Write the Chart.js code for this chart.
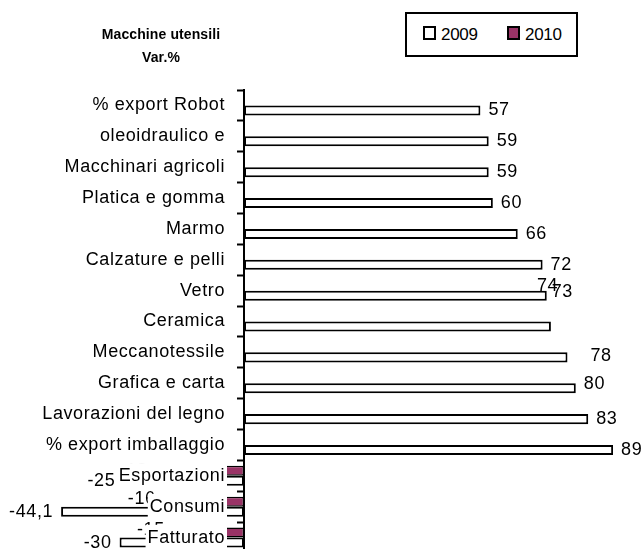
<!DOCTYPE html>
<html>
<head>
<meta charset="utf-8">
<script src="https://cdn.jsdelivr.net/npm/chart.js@4.4.1/dist/chart.umd.min.js"></script>
<style>
    html, body { margin: 0; padding: 0; overflow: hidden; background: #fff; }
    #wrap { position: relative; width: 644px; height: 549px; }
    #grafico { position: absolute; left: 0; top: 0; }
    .titolo {
        position: absolute; left: 0; top: 23px; width: 322px; text-align: center;
        font: bold 14px "Liberation Sans", Arial, sans-serif;
        letter-spacing: 0.1px; line-height: 23px; color: #000;
    }
    .legenda {
        position: absolute; left: 405px; top: 12px; width: 173px; height: 45px;
        box-sizing: border-box; border: 2px solid #000; background: #fff;
        font: 17px "Liberation Sans", Arial, sans-serif;
        letter-spacing: -0.3px; line-height: 19px; color: #000;
    }
    .quadro { position: absolute; top: 12px; width: 13px; height: 14px; box-sizing: border-box; border: 2px solid #000; }
    .testo { position: absolute; top: 11px; }
</style>
</head>
<body>
<div id="wrap">
    <canvas id="grafico" width="644" height="560"></canvas>
    <div class="titolo">Macchine utensili<br>Var.%</div>
    <div class="legenda">
        <span class="quadro" style="left:16px; background:#fff"></span><span class="testo" style="left:34px">2009</span>
        <span class="quadro" style="left:100px; background:#993366"></span><span class="testo" style="left:118px">2010</span>
    </div>
</div>
<script>
// Settori e variazioni percentuali
const categorie = [
    '% export Robot', 'oleoidraulico e', 'Macchinari agricoli', 'Platica e gomma',
    'Marmo', 'Calzature e pelli', 'Vetro', 'Ceramica', 'Meccanotessile',
    'Grafica e carta', 'Lavorazioni del legno', '% export imballaggio',
    'Esportazioni', 'Consumi', 'Fatturato'
];
const valori2009 = [57, 59, 59, 60, 66, 72, 73, 74, 78, 80, 83, 89, -25, -44.1, -30];
const valori2010 = [null, null, null, null, null, null, null, null, null, null, null, null, -18, -16, -15];

// Spostamento manuale di alcune etichette (dx, dy in pixel)
const spostamenti = {
    '2009|Vetro': [-3, -4],
    '2009|Ceramica': [-22, -40],
    '2009|Meccanotessile': [15, -1],
    '2009|Grafica e carta': [0, -4],
    '2009|Esportazioni': [-17, 0],
    '2010|Esportazioni': [-14, 0],
    '2010|Consumi': [-14, -3],
    '2010|Fatturato': [-9, -3]
};

const FONT = '"Liberation Sans", Arial, sans-serif';

// Spaziatura tra le lettere come nel grafico originale
const spaziatura = {
    id: 'spaziatura',
    beforeLayout(chart) { chart.ctx.letterSpacing = '0.6px'; },
    beforeDraw(chart) { chart.ctx.letterSpacing = '0.6px'; }
};

// Etichette dei valori alla fine delle barre
const etichette = {
    id: 'etichette',
    afterDatasetsDraw(chart) {
        const ctx = chart.ctx;
        ctx.save();
        ctx.font = '18px ' + FONT;
        ctx.fillStyle = '#000';
        ctx.textBaseline = 'middle';
        chart.data.datasets.forEach((ds, i) => {
            const meta = chart.getDatasetMeta(i);
            meta.data.forEach((bar, j) => {
                const v = ds.data[j];
                if (v === null) return;
                const sp = spostamenti[ds.label + '|' + categorie[j]] || [0, 0];
                const neg = v < 0;
                ctx.textAlign = neg ? 'right' : 'left';
                ctx.fillText(String(v).replace('.', ','), bar.x + (neg ? -8 : 8) + sp[0], bar.y + sp[1]);
            });
        });
        ctx.restore();
    }
};

const ctx = document.getElementById('grafico').getContext('2d');
window.graficoMacchine = new Chart(ctx, {
    type: 'bar',
    data: {
        labels: categorie,
        datasets: [{
            label: '2010',
            data: valori2010,
            backgroundColor: '#993366',
            borderColor: '#000',
            borderWidth: 1.5,
            borderSkipped: false,
            clip: false
        }, {
            label: '2009',
            data: valori2009,
            backgroundColor: '#fff',
            borderColor: '#000',
            borderWidth: 2,
            borderSkipped: false,
            clip: false
        }]
    },
    options: {
        indexAxis: 'y',
        responsive: false,
        animation: false,
        categoryPercentage: 0.65,
        barPercentage: 1,
        layout: {
            padding: { top: 90, bottom: 7, left: 0, right: 6 }
        },
        plugins: {
            legend: { display: false },
            title: { display: false },
            tooltip: { enabled: false }
        },
        scales: {
            x: {
                type: 'linear',
                min: 0,
                max: 95,
                display: false
            },
            y: {
                position: 'left',
                afterFit(scale) {
                    scale.width = 244;
                    scale.paddingTop = 0;
                    scale.paddingBottom = 0;
                },
                grid: {
                    drawOnChartArea: false,
                    drawTicks: true,
                    tickLength: 7,
                    tickWidth: 2,
                    tickColor: '#000',
                    z: 1
                },
                border: { display: true, color: '#000', width: 2, z: 1 },
                ticks: {
                    z: 1,
                    autoSkip: false,
                    padding: 12,
                    color: '#000',
                    font: { family: FONT, size: 18 },
                    showLabelBackdrop: true,
                    backdropColor: '#fff',
                    backdropPadding: 2
                }
            }
        }
    },
    plugins: [spaziatura, etichette]
});
</script>
</body>
</html>
